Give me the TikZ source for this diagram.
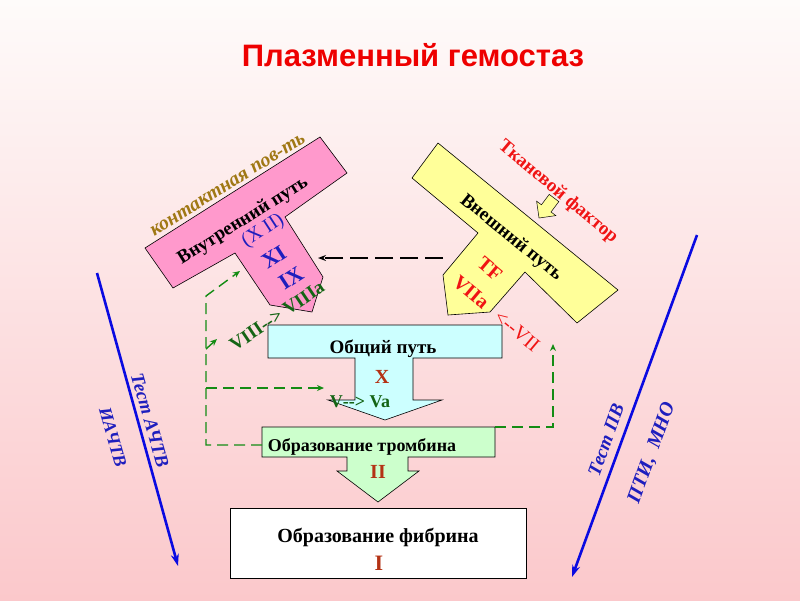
\documentclass[tikz,border=0pt]{standalone}
\usepackage{fontspec}
\setmainfont{Liberation Serif}
\newfontfamily\titlefont{Liberation Sans}
\usetikzlibrary{arrows.meta}
\definecolor{bgtop}{RGB}{254,251,250}
\definecolor{bgbot}{RGB}{251,200,203}
\definecolor{titlered}{RGB}{238,0,0}
\definecolor{pinkfill}{RGB}{255,153,204}
\definecolor{yellowfill}{RGB}{255,255,153}
\definecolor{bluebox}{RGB}{204,255,255}
\definecolor{greenbox}{RGB}{204,255,204}
\definecolor{gold}{RGB}{160,120,20}
\definecolor{numblue}{RGB}{30,30,190}
\definecolor{arrowblue}{RGB}{10,10,225}
\definecolor{dkgreen}{RGB}{20,100,20}
\definecolor{dashgreen}{RGB}{20,140,20}
\definecolor{brownred}{RGB}{180,50,20}
\definecolor{txtred}{RGB}{240,20,20}
\newcommand{\hy}{\hbox{-}}
\tikzset{
  shapeline/.style={draw=black, line width=0.6pt},
  lbl/.style={inner sep=0pt, font=\bfseries\fontsize{19}{21}\selectfont},
  gdash/.style={draw=dashgreen, line width=1.4pt, dash pattern=on 11pt off 6pt,
    -{Stealth[length=7pt,width=6pt]}},
  testarrow/.style={draw=arrowblue, line width=2.6pt, -{Stealth[length=12pt,width=8pt]}},
  testlbl/.style={inner sep=0pt, text=numblue, font=\bfseries\itshape\fontsize{19}{21}\selectfont}
}
\begin{document}
\begin{tikzpicture}[x=1pt,y=-1pt]
\useasboundingbox (0,0) rectangle (800,600);
\shade[top color=bgtop, bottom color=bgbot] (0,0) rectangle (800,600);

% title
\node[inner sep=0pt, text=titlered, font=\titlefont\bfseries\fontsize{31}{34}\selectfont] (title) at (413,55) {Плазменный гемостаз};

% intrinsic (pink) T
\path[shapeline, fill=pinkfill] (145,248) -- (320,137) -- (347,173) -- (285,217) -- (323,277) -- (312,312) -- (270,305) -- (235,253) -- (173,288) -- cycle;
\node[lbl, rotate=32, text=gold, font=\bfseries\itshape\fontsize{20}{22}\selectfont] (contact) at (228,185) {контактная пов-ть};
\node[lbl, rotate=32] (intr) at (243,221) {Внутренний путь};
\node[inner sep=0pt, rotate=33, text=numblue, font=\fontsize{20}{22}\selectfont] (f12) at (263,231) {(X II)};
\node[lbl, rotate=33, text=numblue, font=\bfseries\fontsize{22}{24}\selectfont] (f11) at (274,257) {XI};
\node[lbl, rotate=33, text=numblue, font=\bfseries\fontsize{22}{24}\selectfont] (f9) at (291,278) {IX};
\node[lbl, rotate=34, text=dkgreen] (f8) at (277,316) {VIII\hy\hy> VIIIa};

% extrinsic (yellow) T
\path[shapeline, fill=yellowfill] (438,143) -- (618,290) -- (577,323) -- (525,272) -- (490,312) -- (448,315) -- (443,275) -- (478,233) -- (412,178) -- cycle;
\path[draw=black, line width=0.5pt, fill=yellowfill] (549.2,194.4) -- (541.4,204.8) -- (536.6,201.2) -- (539,218) -- (555.8,215.6) -- (551,212) -- (558.8,201.6) -- cycle;
\node[lbl, rotate=-40, text=txtred] (tf) at (558,192) {Тканевой фактор};
\node[lbl, rotate=-39] (extr) at (511,238) {Внешний путь};
\node[lbl, rotate=-40, text=txtred, font=\bfseries\fontsize{20}{22}\selectfont] (tfx) at (490,269) {TF};
\node[lbl, rotate=-40, text=txtred, font=\bfseries\fontsize{20}{22}\selectfont] (f7a) at (471,292) {VIIa};
\node[inner sep=0pt, rotate=-40, text=txtred, font=\fontsize{20}{22}\selectfont] (f7) at (517,331) {<\hy\hy VII};

% dashed black connector extrinsic -> intrinsic
\coordinate (extrL) at (443,258);
\coordinate (intrR) at (318,258);
\draw[line width=1.3pt, dash pattern=on 18pt off 7pt, -{Stealth[length=8pt,width=6pt]}] (extrL) -- (intrR);

% common pathway block arrow
\path[shapeline, fill=bluebox] (268,325) -- (502,325) -- (502,358) -- (413,358) -- (413,400) -- (442,400) -- (385,420) -- (328,400) -- (355,400) -- (355,358) -- (268,358) -- cycle;
\node[lbl] (common) at (383,349) {Общий путь};
\node[lbl, text=brownred, font=\bfseries\fontsize{20}{22}\selectfont] (f10) at (382,377) {X};
\node[lbl, text=dkgreen, font=\bfseries\fontsize{18}{20}\selectfont] (f5) at (360,402) {V\hy\hy> Va};

% thrombin block arrow
\path[shapeline, fill=greenbox] (262,427) -- (495,427) -- (495,457) -- (408,457) -- (408,471) -- (419,471) -- (378,502) -- (337,471) -- (347,471) -- (347,457) -- (262,457) -- cycle;
\node[lbl, font=\bfseries\fontsize{18}{20}\selectfont] (thr) at (362,447) {Образование тромбина};
\node[lbl, text=brownred, font=\bfseries\fontsize{20}{22}\selectfont] (f2) at (378,472) {II};

% fibrin box
\node[draw=black, line width=0.6pt, fill=white, minimum width=296pt, minimum height=70pt, inner sep=0pt] (fibbox) at (378,543) {};
\node[lbl, font=\bfseries\fontsize{20}{22}\selectfont] (fib) at (378,537) {Образование фибрина};
\node[lbl, text=brownred, font=\bfseries\fontsize{22}{24}\selectfont] (f1) at (379,563) {I};

% green dashed feedback connectors
\coordinate (thrL) at (262,445);
\coordinate (lcorner) at (206,445);
\coordinate (ltop) at (206,296);
\coordinate (toIX) at (240,271);
\coordinate (b8a) at (206,349);
\coordinate (to8) at (217,339);
\coordinate (b5a) at (206,388);
\coordinate (to5) at (324,388);
\coordinate (thrR) at (495,427);
\coordinate (rcorner) at (553,427);
\coordinate (to7) at (553,344);
\draw[gdash] (thrL) -- (lcorner) -- (ltop) -- (toIX);
\draw[gdash] (b8a) -- (to8);
\draw[gdash] (b5a) -- (to5);
\draw[gdash] (thrR) -- (rcorner) -- (to7);

% blue test arrows
\coordinate (la1) at (97,273);
\coordinate (la2) at (178,566);
\coordinate (ra1) at (697,235);
\coordinate (ra2) at (572,577);
\draw[testarrow] (la1) -- (la2);
\draw[testarrow] (ra1) -- (ra2);
\node[testlbl, rotate=-74] (achtv) at (150,420) {Тест АЧТВ};
\node[testlbl, rotate=-74, font=\bfseries\itshape\fontsize{18}{20}\selectfont] (iachtv) at (113,437) {ИАЧТВ};
\node[testlbl, rotate=70] (pv) at (606,440) {Тест ПВ};
\node[testlbl, rotate=70, font=\bfseries\itshape\fontsize{20}{22}\selectfont] (pti) at (652,453) {ПТИ,~ МНО};
\end{tikzpicture}
\end{document}
